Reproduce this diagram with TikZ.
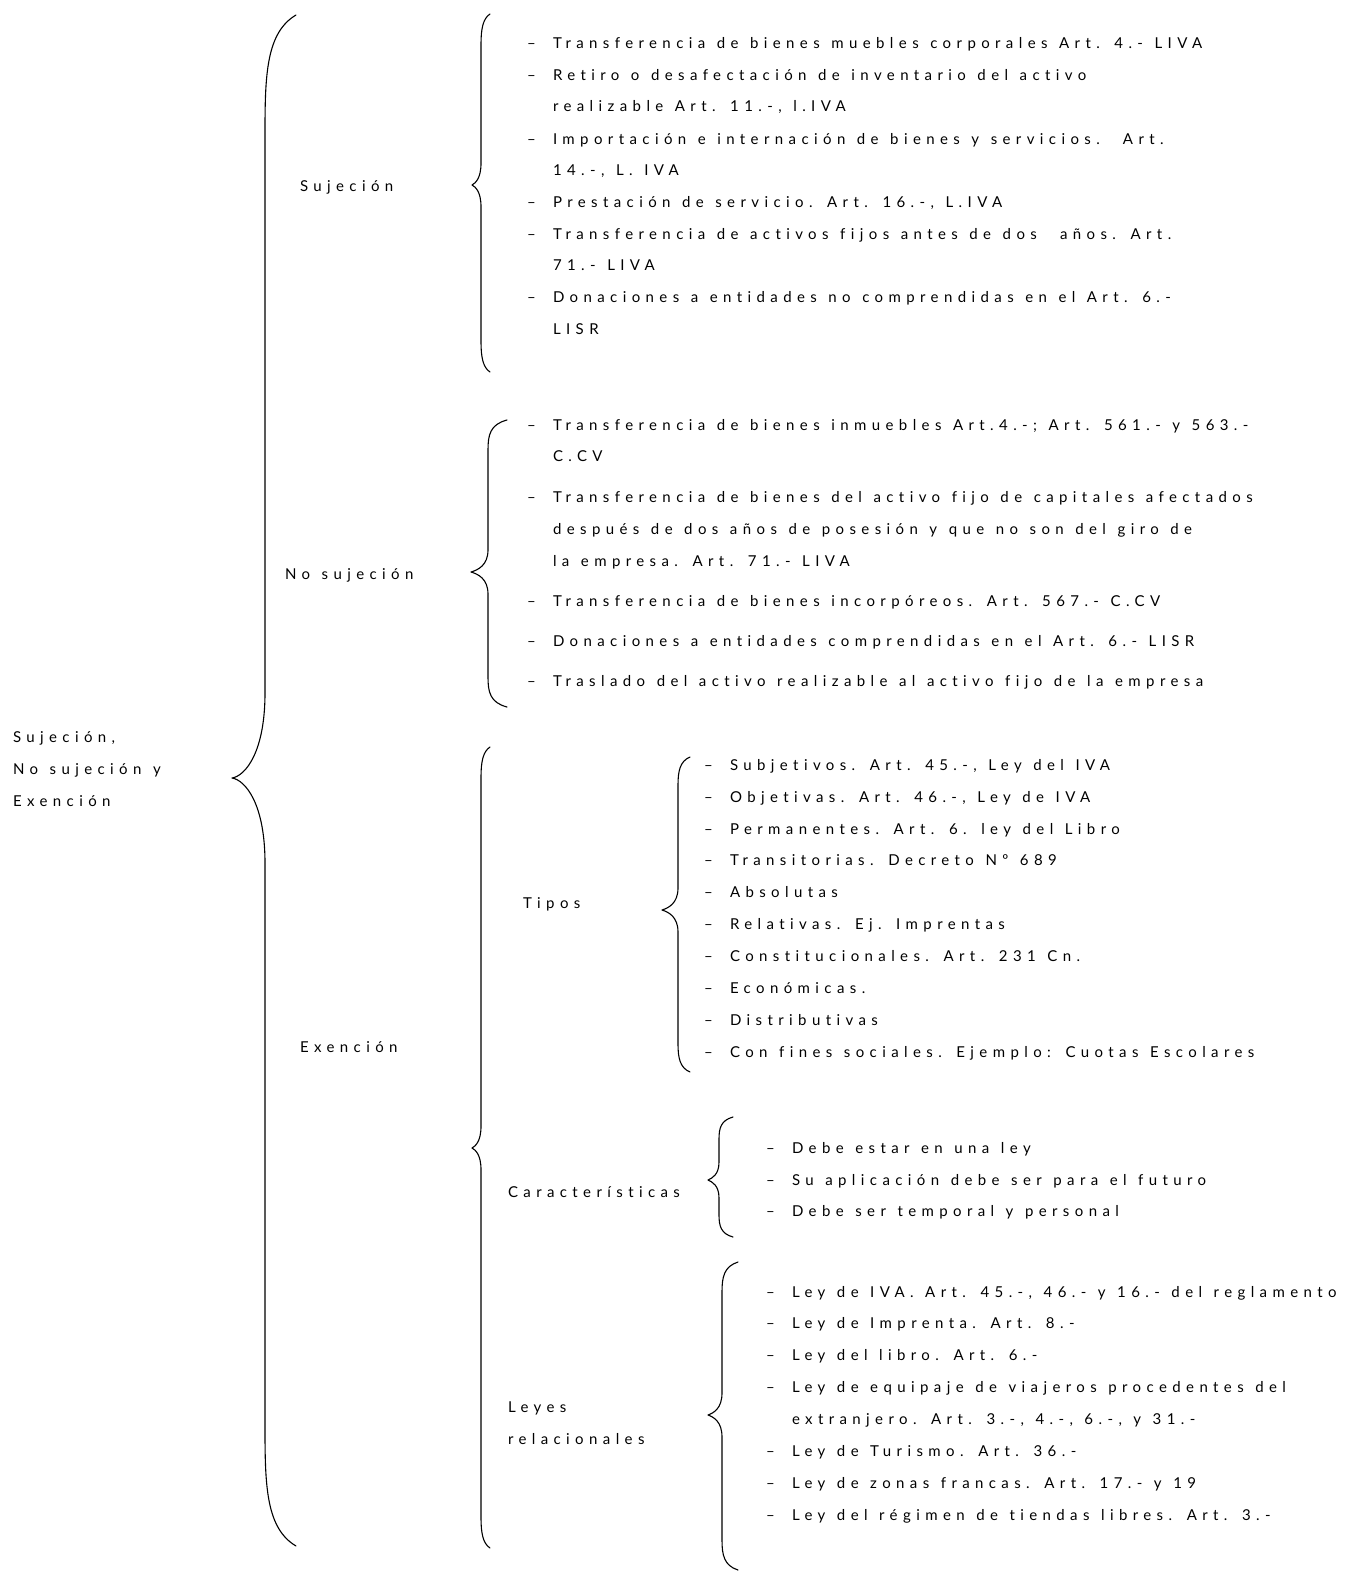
\documentclass[tikz,border=0pt]{standalone}
\usepackage{fontspec}
\setmainfont{Lato}[LetterSpace=36,WordSpace=1.25,Ligatures=NoCommon]
\begin{document}
\begin{tikzpicture}[x=1pt,y=-1pt,
  txt/.style={anchor=base west, inner sep=0pt, outer sep=0pt},
  bracelin/.style={line width=1.1pt, line cap=round, line join=round},
  font=\fontsize{15}{17}\selectfont]
\useasboundingbox (0,0) rectangle (1350,1574);

% curly brace: end x, line x, tip x, top y, tip y, bottom y, end curve, tip curve
\newcommand{\curlybrace}[8]{%
  \draw[bracelin] (#1,#4) .. controls ({#2+2},{#4+#7*0.15}) and (#2,{#4+#7*0.5}) .. (#2,{#4+#7})
    -- (#2,{#5-#8}) .. controls (#2,{#5-#8*0.3}) and ({#3+(#2-#3)*0.4},{#5-2}) .. (#3,#5)
    .. controls ({#3+(#2-#3)*0.4},{#5+2}) and (#2,{#5+#8*0.3}) .. (#2,{#5+#8})
    -- (#2,{#6-#7}) .. controls (#2,{#6-#7*0.5}) and ({#2+2},{#6-#7*0.15}) .. (#1,#6);}
% list entry with dash: x of dash, node name, y centre, text
\newcommand{\entry}[4]{%
  \node[txt] at (#1,{#3+7}) {–};
  \node[txt] (#2) at ({#1+26},{#3+7}) {#4};}
% continuation line of an entry
\newcommand{\cont}[4]{%
  \node[txt] (#2) at ({#1+26},{#3+7}) {#4};}
% stand-alone label: name, x, y centre, text
\newcommand{\heading}[4]{%
  \node[txt] (#1) at (#2,{#3+7}) {#4};}

% root
\heading{root1}{13}{735}{Sujeción,}
\heading{root2}{13}{767}{No sujeción y}
\heading{root3}{13}{799}{Exención}
\curlybrace{296}{265}{232}{15}{778}{1546}{115}{85}

% level one labels
\heading{suj}{300}{184}{Sujeción}
\heading{nosuj}{285}{572}{No sujeción}
\heading{exen}{300}{1045}{Exención}

% Sujecion
\curlybrace{490}{481}{472}{14}{185}{372}{30}{22}
\entry{527}{s1}{41}{Transferencia de bienes muebles corporales Art. 4.- LIVA}
\entry{527}{s2}{73}{Retiro o desafectación de inventario del activo}
\cont{527}{s2b}{104}{realizable Art. 11.-, l.IVA}
\entry{527}{s3}{137}{Importación e internación de bienes y servicios.\ \ Art.}
\cont{527}{s3b}{168}{14.-, L. IVA}
\entry{527}{s4}{200}{Prestación de servicio. Art. 16.-, L.IVA}
\entry{527}{s5}{232}{Transferencia de activos fijos antes de dos\ \ años. Art.}
\cont{527}{s5b}{263}{71.- LIVA}
\entry{527}{s6}{295}{Donaciones a entidades no comprendidas en el Art. 6.-}
\cont{527}{s6b}{327}{LISR}

% No sujecion
\curlybrace{507}{488}{471}{420}{572}{707}{30}{22}
\entry{527}{n1}{423}{Transferencia de bienes inmuebles Art.4.-; Art. 561.- y 563.-}
\cont{527}{n1b}{454}{C.CV}
\entry{527}{n2}{495}{Transferencia de bienes del activo fijo de capitales afectados}
\cont{527}{n2b}{527}{después de dos años de posesión y que no son del giro de}
\cont{527}{n2c}{559}{la empresa. Art. 71.- LIVA}
\entry{527}{n3}{599}{Transferencia de bienes incorpóreos. Art. 567.- C.CV}
\entry{527}{n4}{639}{Donaciones a entidades comprendidas en el Art. 6.- LISR}
\entry{527}{n5}{679}{Traslado del activo realizable al activo fijo de la empresa}

% Exencion
\curlybrace{490}{481}{472}{747}{1148}{1548}{30}{22}

% Tipos
\heading{tipos}{523}{901}{Tipos}
\curlybrace{690}{678}{662}{757}{910}{1072}{28}{22}
\entry{704}{t1}{763}{Subjetivos. Art. 45.-, Ley del IVA}
\entry{704}{t2}{795}{Objetivas. Art. 46.-, Ley de IVA}
\entry{704}{t3}{827}{Permanentes. Art. 6. ley del Libro}
\entry{704}{t4}{858}{Transitorias. Decreto Nº 689}
\entry{704}{t5}{890}{Absolutas}
\entry{704}{t6}{922}{Relativas. Ej. Imprentas}
\entry{704}{t7}{954}{Constitucionales. Art. 231 Cn.}
\entry{704}{t8}{986}{Económicas.}
\entry{704}{t9}{1018}{Distributivas}
\entry{704}{t10}{1050}{Con fines sociales. Ejemplo: Cuotas Escolares}

% Caracteristicas
\heading{carac}{508}{1190}{Características}
\curlybrace{733}{719}{708}{1117}{1180}{1237}{22}{18}
\entry{766}{c1}{1146}{Debe estar en una ley}
\entry{766}{c2}{1178}{Su aplicación debe ser para el futuro}
\entry{766}{c3}{1209}{Debe ser temporal y personal}

% Leyes relacionales
\heading{leyes1}{508}{1405}{Leyes}
\heading{leyes2}{508}{1437}{relacionales}
\curlybrace{738}{722}{708}{1262}{1415}{1570}{30}{22}
\entry{766}{l1}{1290}{Ley de IVA. Art. 45.-, 46.- y 16.- del reglamento}
\entry{766}{l2}{1321}{Ley de Imprenta. Art. 8.-}
\entry{766}{l3}{1353}{Ley del libro. Art. 6.-}
\entry{766}{l4}{1385}{Ley de equipaje de viajeros procedentes del}
\cont{766}{l4b}{1417}{extranjero. Art. 3.-, 4.-, 6.-, y 31.-}
\entry{766}{l5}{1449}{Ley de Turismo. Art. 36.-}
\entry{766}{l6}{1481}{Ley de zonas francas. Art. 17.- y 19}
\entry{766}{l7}{1513}{Ley del régimen de tiendas libres. Art. 3.-}
\end{tikzpicture}
\end{document}
